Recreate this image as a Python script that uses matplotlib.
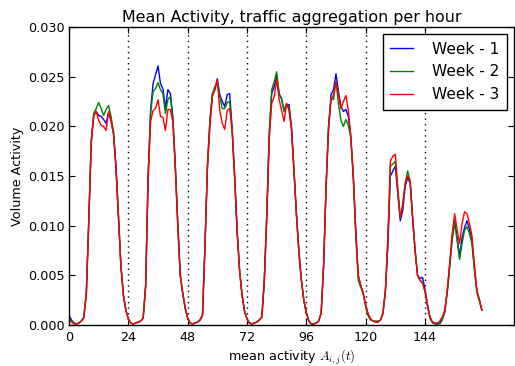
import numpy as np
import matplotlib
matplotlib.use("Agg")
import matplotlib.pyplot as plt

plt.rcParams['mathtext.fontset'] = 'cm'
plt.rcParams['font.family'] = ['DejaVu Sans']

# ---- data (hourly mean activity, 7 days x 24 h) ----
week1 = [
    # day 1
    0.0010, 0.0005, 0.0002, 0.0001, 0.0002, 0.0004, 0.0008, 0.0032, 0.0105, 0.0185, 0.0212, 0.0215,
    0.0211, 0.0210, 0.0207, 0.0203, 0.0214, 0.0206, 0.0193, 0.0160, 0.0110, 0.0060, 0.0030, 0.0015,
    # day 2
    0.0006, 0.0002, 0.0001, 0.0002, 0.0003, 0.0004, 0.0007, 0.0040, 0.0150, 0.0216, 0.0243, 0.0252,
    0.0261, 0.0243, 0.0238, 0.0218, 0.0237, 0.0233, 0.0210, 0.0160, 0.0102, 0.0050, 0.0032, 0.0017,
    # day 3
    0.0007, 0.0002, 0.0001, 0.0002, 0.0003, 0.0005, 0.0010, 0.0080, 0.0160, 0.0205, 0.0233, 0.0237,
    0.0248, 0.0232, 0.0225, 0.0220, 0.0232, 0.0233, 0.0198, 0.0150, 0.0095, 0.0055, 0.0030, 0.0014,
    # day 4
    0.0006, 0.0002, 0.0001, 0.0002, 0.0003, 0.0005, 0.0008, 0.0045, 0.0110, 0.0190, 0.0233, 0.0240,
    0.0250, 0.0233, 0.0228, 0.0216, 0.0222, 0.0222, 0.0200, 0.0156, 0.0112, 0.0074, 0.0045, 0.0025,
    # day 5
    0.0012, 0.0004, 0.0001, 0.0001, 0.0002, 0.0004, 0.0012, 0.0060, 0.0140, 0.0200, 0.0232, 0.0237,
    0.0253, 0.0235, 0.0220, 0.0215, 0.0217, 0.0210, 0.0190, 0.0150, 0.0095, 0.0050, 0.0040, 0.0032,
    # day 6
    0.0020, 0.0011, 0.0006, 0.0004, 0.0003, 0.0003, 0.0005, 0.0012, 0.0035, 0.0080, 0.0150, 0.0155,
    0.0160, 0.0133, 0.0105, 0.0115, 0.0140, 0.0148, 0.0143, 0.0108, 0.0075, 0.0050, 0.0047, 0.0048,
    # day 7
    0.0036, 0.0021, 0.0008, 0.0003, 0.0002, 0.0001, 0.0002, 0.0006, 0.0013, 0.0033, 0.0060, 0.0088,
    0.0105, 0.0088, 0.0069, 0.0088, 0.0098, 0.0105, 0.0097, 0.0085, 0.0057, 0.0034, 0.0025, 0.0015,
]
week2 = [
    0.0007, 0.0004, 0.0002, 0.0001, 0.0002, 0.0004, 0.0008, 0.0033, 0.0107, 0.0187, 0.0213, 0.0218,
    0.0224, 0.0218, 0.0211, 0.0217, 0.0221, 0.0210, 0.0195, 0.0160, 0.0110, 0.0060, 0.0030, 0.0015,
    0.0006, 0.0002, 0.0001, 0.0002, 0.0003, 0.0004, 0.0007, 0.0040, 0.0150, 0.0213, 0.0235, 0.0238,
    0.0244, 0.0237, 0.0233, 0.0213, 0.0227, 0.0230, 0.0208, 0.0160, 0.0102, 0.0050, 0.0032, 0.0017,
    0.0007, 0.0002, 0.0001, 0.0002, 0.0003, 0.0005, 0.0010, 0.0080, 0.0160, 0.0207, 0.0232, 0.0240,
    0.0245, 0.0230, 0.0218, 0.0218, 0.0224, 0.0225, 0.0196, 0.0150, 0.0095, 0.0055, 0.0030, 0.0014,
    0.0006, 0.0002, 0.0001, 0.0002, 0.0003, 0.0005, 0.0008, 0.0045, 0.0112, 0.0195, 0.0237, 0.0245,
    0.0255, 0.0233, 0.0227, 0.0215, 0.0223, 0.0218, 0.0198, 0.0156, 0.0112, 0.0074, 0.0045, 0.0025,
    0.0012, 0.0004, 0.0001, 0.0001, 0.0002, 0.0004, 0.0012, 0.0060, 0.0140, 0.0200, 0.0228, 0.0227,
    0.0245, 0.0223, 0.0206, 0.0200, 0.0207, 0.0201, 0.0188, 0.0148, 0.0090, 0.0045, 0.0038, 0.0032,
    0.0018, 0.0009, 0.0005, 0.0004, 0.0004, 0.0004, 0.0005, 0.0011, 0.0035, 0.0085, 0.0160, 0.0162,
    0.0165, 0.0135, 0.0108, 0.0120, 0.0143, 0.0155, 0.0145, 0.0108, 0.0075, 0.0050, 0.0045, 0.0043,
    0.0034, 0.0019, 0.0007, 0.0002, 0.0001, 0.0001, 0.0001, 0.0005, 0.0013, 0.0033, 0.0058, 0.0085,
    0.0103, 0.0085, 0.0066, 0.0082, 0.0095, 0.0099, 0.0092, 0.0082, 0.0055, 0.0033, 0.0024, 0.0015,
]
week3 = [
    0.0005, 0.0003, 0.0001, 0.0001, 0.0002, 0.0004, 0.0007, 0.0030, 0.0103, 0.0183, 0.0210, 0.0215,
    0.0206, 0.0201, 0.0200, 0.0196, 0.0215, 0.0205, 0.0192, 0.0158, 0.0108, 0.0058, 0.0030, 0.0015,
    0.0006, 0.0002, 0.0001, 0.0002, 0.0003, 0.0004, 0.0007, 0.0038, 0.0145, 0.0205, 0.0216, 0.0218,
    0.0227, 0.0210, 0.0209, 0.0196, 0.0217, 0.0217, 0.0205, 0.0158, 0.0100, 0.0050, 0.0032, 0.0017,
    0.0007, 0.0002, 0.0001, 0.0002, 0.0003, 0.0005, 0.0010, 0.0078, 0.0158, 0.0200, 0.0230, 0.0237,
    0.0247, 0.0216, 0.0203, 0.0197, 0.0216, 0.0218, 0.0195, 0.0148, 0.0095, 0.0055, 0.0030, 0.0014,
    0.0006, 0.0002, 0.0001, 0.0002, 0.0003, 0.0005, 0.0008, 0.0043, 0.0108, 0.0188, 0.0223, 0.0230,
    0.0248, 0.0227, 0.0216, 0.0205, 0.0223, 0.0216, 0.0197, 0.0155, 0.0110, 0.0073, 0.0045, 0.0025,
    0.0012, 0.0004, 0.0001, 0.0001, 0.0002, 0.0004, 0.0012, 0.0060, 0.0140, 0.0198, 0.0227, 0.0232,
    0.0245, 0.0232, 0.0218, 0.0225, 0.0231, 0.0216, 0.0190, 0.0150, 0.0095, 0.0050, 0.0040, 0.0032,
    0.0020, 0.0011, 0.0006, 0.0004, 0.0003, 0.0003, 0.0005, 0.0012, 0.0035, 0.0088, 0.0165, 0.0170,
    0.0172, 0.0138, 0.0108, 0.0122, 0.0142, 0.0150, 0.0145, 0.0108, 0.0075, 0.0050, 0.0045, 0.0042,
    0.0034, 0.0020, 0.0008, 0.0003, 0.0002, 0.0002, 0.0004, 0.0008, 0.0015, 0.0035, 0.0062, 0.0092,
    0.0112, 0.0096, 0.0082, 0.0102, 0.0114, 0.0112, 0.0102, 0.0090, 0.0060, 0.0035, 0.0026, 0.0015,
]
series_labels = ["Week - 1", "Week - 2", "Week - 3"]
series_colors = ["#0000ff", "#008000", "#ff0000"]
day_bounds = [24, 48, 72, 96, 120, 144]
x_ticks = [0, 24, 48, 72, 96, 120, 144]
y_ticks = [0.000, 0.005, 0.010, 0.015, 0.020, 0.025, 0.030]

hours = np.arange(len(week1))

fig = plt.figure(figsize=(5.15, 3.66), dpi=100)
ax = fig.add_axes([0.134, 0.112, 0.864, 0.814])

for vals, lab, col in zip([week1, week2, week3], series_labels, series_colors):
    ax.plot(hours, vals, color=col, lw=1.0, label=lab)

for b in day_bounds:
    ax.axvline(b, color='black', lw=1.0, linestyle=(0, (1, 3)), zorder=0)

ax.set_xlim(0, 180)
ax.set_ylim(0, 0.030)
ax.set_xticks(x_ticks)
ax.set_yticks(y_ticks)
ax.set_yticklabels([f"{v:.3f}" for v in y_ticks])
ax.tick_params(direction='in', top=True, right=True, length=4, width=0.8, labelsize=9.2)
ax.tick_params(axis='x', pad=4.5)
ax.tick_params(axis='y', pad=3)
for s in ax.spines.values():
    s.set_linewidth(1.0)

ax.set_title("Mean Activity, traffic aggregation per hour", fontsize=11.4, pad=4)
ax.set_xlabel(r"mean activity $A_{i,j}(t)$", fontsize=9.2, labelpad=3)
ax.set_ylabel("Volume Activity", fontsize=9.2, labelpad=3)

leg = ax.legend(loc='upper right', fontsize=11.1, fancybox=False, framealpha=1,
                edgecolor='black', handlelength=1.5, handletextpad=1.2,
                borderpad=0.5, labelspacing=0.5, borderaxespad=0.45)
leg.get_frame().set_linewidth(1.0)

fig.savefig("out.png", dpi=100)
